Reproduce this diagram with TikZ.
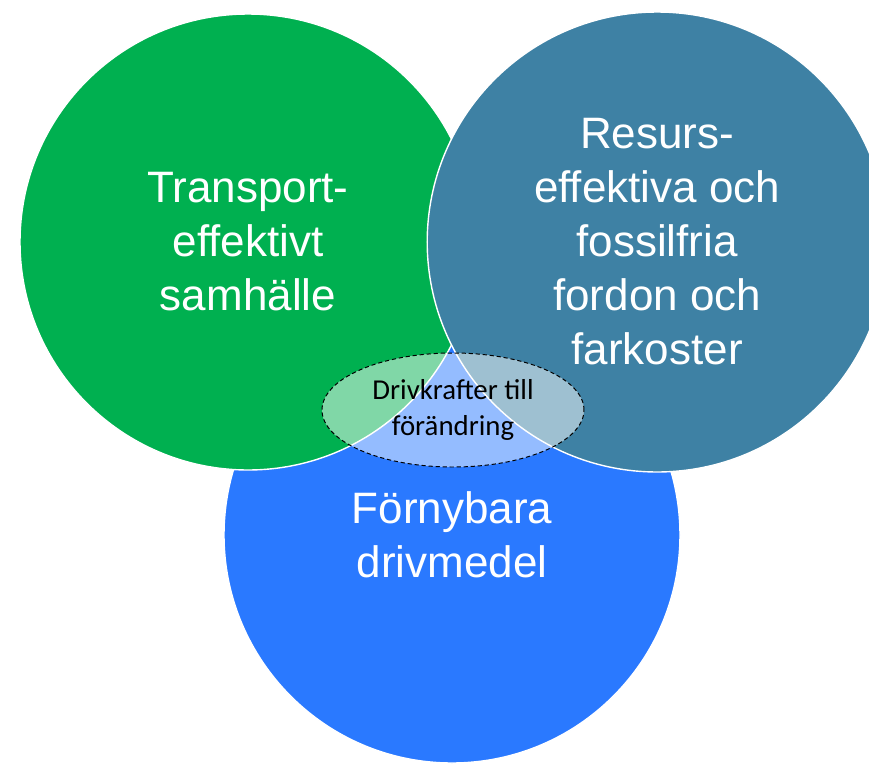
\documentclass[tikz,border=0pt]{standalone}
\usepackage{fontspec}
\setmainfont{Liberation Sans}
\newfontfamily\carlito{Carlito}
\usetikzlibrary{positioning,shapes}

\definecolor{greenfill}{RGB}{0,176,80}
\definecolor{tealfill}{RGB}{62,129,164}
\definecolor{bluefill}{RGB}{42,121,255}

\tikzset{
  bigcircle/.style={circle, draw=white, line width=1pt, minimum size=11.4cm, inner sep=0pt,
    text=white, align=center, font=\fontsize{31.3}{38.4}\selectfont},
  driver/.style={ellipse, draw=black, dashed, dash pattern=on 3pt off 2pt, line width=0.7pt,
    fill=white, fill opacity=0.5, text opacity=1, minimum width=6.55cm, minimum height=2.85cm,
    inner sep=0pt, align=center, font=\carlito\fontsize{20.5}{25.5}\selectfont}
}

\begin{document}
\begin{tikzpicture}
  % \draw[help lines] (0, -19.1) grid (21.725, 0);
  \useasboundingbox (0, 0) rectangle (21.725, -19.1);

  \node [bigcircle, fill=bluefill] (fuel) at (11.3, -13.375) {Förnybara\\drivmedel};
  \node [bigcircle, fill=greenfill] (society) at (6.2, -6.05) {Transport-\\effektivt\\samhälle};
  \node [bigcircle, fill=tealfill, minimum size=11.5cm] (vehicles) at (16.43, -6.05)
    {Resurs-\\effektiva och\\fossilfria\\fordon och\\farkoster};

  \node [driver] (drivers) at (11.325, -10.25) {Drivkrafter till\\förändring};
\end{tikzpicture}
\end{document}
